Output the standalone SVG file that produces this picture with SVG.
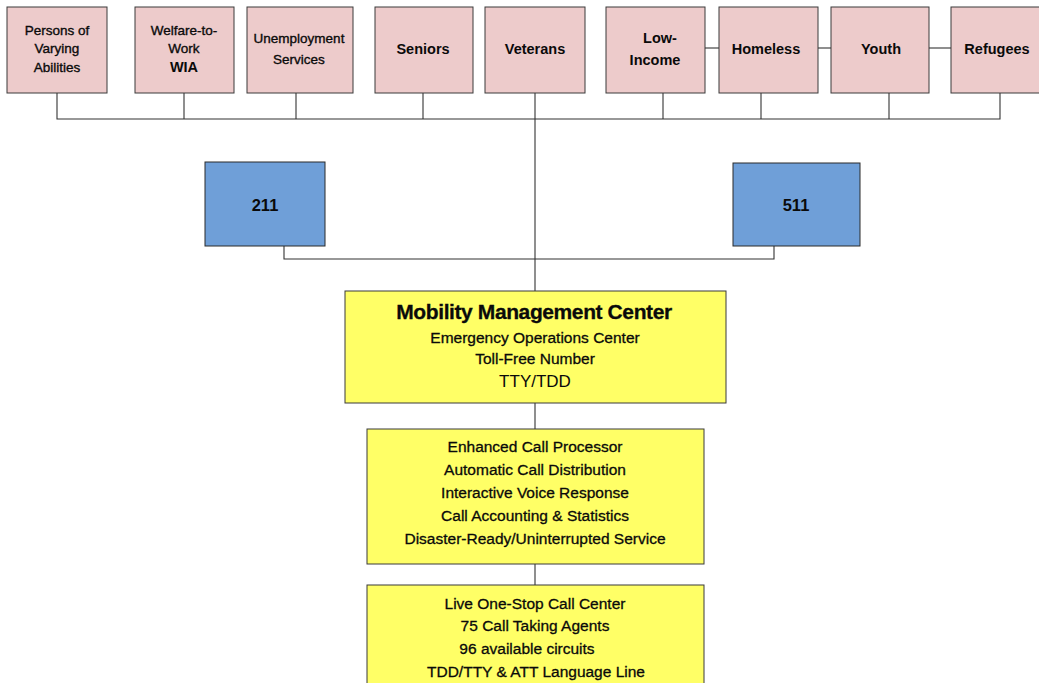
<svg xmlns="http://www.w3.org/2000/svg" width="1039" height="683" viewBox="0 0 1039 683">
<style>
.pk{fill:#EDCBCB;stroke:#3a3a3a;stroke-width:1}
.bl{fill:#6F9FD8;stroke:#2a2a2a;stroke-width:1}
.yl{fill:#FFFF66;stroke:#3a3a3a;stroke-width:1}
.t{font-family:"Liberation Sans",Arial,sans-serif;fill:#0a0a0a;text-anchor:middle}
.s{font-size:13.5px;stroke:#0a0a0a;stroke-width:0.35px}
.b{font-size:14.5px;font-weight:bold}
.m{font-size:15.5px;stroke:#0a0a0a;stroke-width:0.3px}
.c line,.c polyline{stroke:#333;stroke-width:1.1;fill:none}
</style>
<g class="c" id="connectors">
<polyline points="57,93 57,119 1000,119 1000,93"/>
<line x1="184" y1="93" x2="184" y2="119"/>
<line x1="296" y1="93" x2="296" y2="119"/>
<line x1="423" y1="93" x2="423" y2="119"/>
<line x1="535" y1="93" x2="535" y2="291"/>
<line x1="663" y1="93" x2="663" y2="119"/>
<line x1="761" y1="93" x2="761" y2="119"/>
<line x1="889" y1="93" x2="889" y2="119"/>
<line x1="705" y1="48" x2="719" y2="48"/>
<line x1="818" y1="48" x2="831" y2="48"/>
<line x1="929" y1="48" x2="951" y2="48"/>
<polyline points="284,246 284,259 774,259 774,246"/>
<line x1="535" y1="403" x2="535" y2="429"/>
<line x1="535" y1="564" x2="535" y2="585"/>
</g>
<g id="persons"><rect class="pk" x="7" y="7" width="100" height="86"/>
<text class="t s" x="57" y="35">Persons of</text><text class="t s" x="57" y="53">Varying</text><text class="t s" x="57" y="72">Abilities</text></g>
<g id="welfare"><rect class="pk" x="135" y="7" width="99" height="86"/>
<text class="t s" x="184" y="35">Welfare-to-</text><text class="t s" x="184" y="53">Work</text><text class="t b" x="184" y="72">WIA</text></g>
<g id="unemployment"><rect class="pk" x="247" y="7" width="106" height="86"/>
<text class="t s" x="299" y="43">Unemployment</text><text class="t s" x="299" y="64">Services</text></g>
<g id="seniors"><rect class="pk" x="375" y="7" width="98" height="86"/>
<text class="t b" x="423" y="54">Seniors</text></g>
<g id="veterans"><rect class="pk" x="485" y="7" width="100" height="86"/>
<text class="t b" x="535" y="54">Veterans</text></g>
<g id="lowincome"><rect class="pk" x="606" y="7" width="99" height="86"/>
<text class="t b" x="660" y="43">Low-</text><text class="t b" x="655" y="65">Income</text></g>
<g id="homeless"><rect class="pk" x="719" y="7" width="99" height="86"/>
<text class="t b" x="766" y="54">Homeless</text></g>
<g id="youth"><rect class="pk" x="831" y="7" width="98" height="86"/>
<text class="t b" x="881" y="54">Youth</text></g>
<g id="refugees"><rect class="pk" x="951" y="7" width="93" height="86"/>
<text class="t b" x="997" y="54">Refugees</text></g>
<g id="n211"><rect class="bl" x="205" y="162" width="120" height="84"/>
<text class="t b" x="265" y="211" style="font-size:16.5px">211</text></g>
<g id="n511"><rect class="bl" x="733" y="163" width="127" height="83"/>
<text class="t b" x="796" y="211" style="font-size:16.5px">511</text></g>
<g id="mmc"><rect class="yl" x="345" y="291" width="381" height="112"/>
<text class="t" x="534" y="319" style="font-size:21px;font-weight:bold;letter-spacing:-0.4px;stroke:#0a0a0a;stroke-width:0.3px">Mobility Management Center</text>
<text class="t m" x="535" y="343">Emergency Operations Center</text>
<text class="t m" x="535" y="364">Toll-Free Number</text>
<text class="t" x="535" y="387" style="font-size:17px">TTY/TDD</text></g>
<g id="processor"><rect class="yl" x="367" y="429" width="337" height="135"/>
<text class="t m" x="535" y="452">Enhanced Call Processor</text>
<text class="t m" x="535" y="475">Automatic Call Distribution</text>
<text class="t m" x="535" y="498">Interactive Voice Response</text>
<text class="t m" x="535" y="521">Call Accounting &amp; Statistics</text>
<text class="t m" x="535" y="544">Disaster-Ready/Uninterrupted Service</text></g>
<g id="callcenter"><rect class="yl" x="367" y="585" width="337" height="110"/>
<text class="t m" x="535" y="609">Live One-Stop Call Center</text>
<text class="t m" x="535" y="631">75 Call Taking Agents</text>
<text class="t m" x="527" y="654">96 available circuits</text>
<text class="t m" x="536" y="677">TDD/TTY &amp; ATT Language Line</text></g>
</svg>
